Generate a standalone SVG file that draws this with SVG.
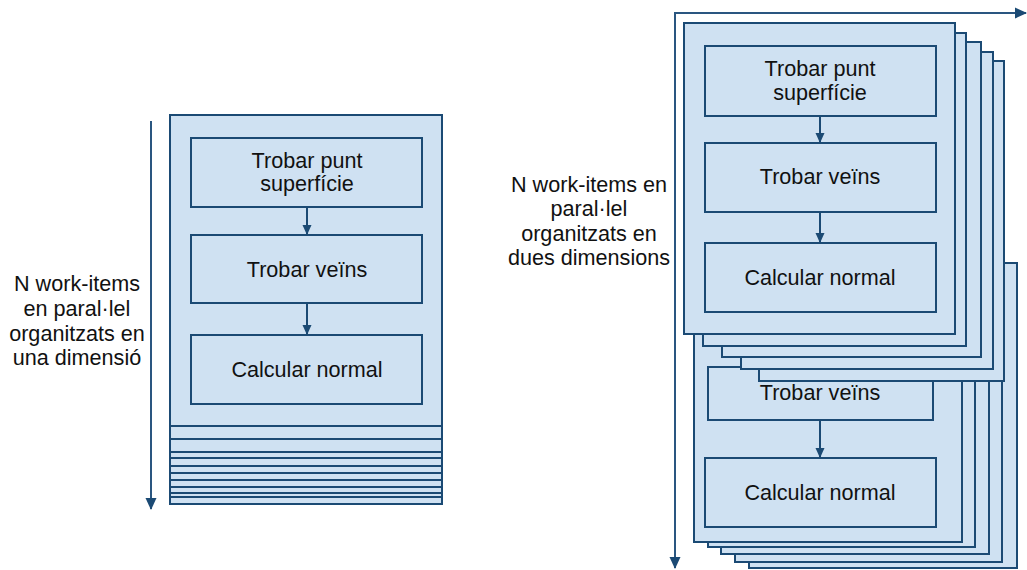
<svg xmlns="http://www.w3.org/2000/svg" width="1027" height="570" viewBox="0 0 1027 570">
  <style>
    .card { fill: #cfe1f2; stroke: #1b4a74; stroke-width: 2; }
    .box { fill: #cfe1f2; stroke: #1b4a74; stroke-width: 2; }
    .flow { stroke: #1b4a74; stroke-width: 2; fill: none; }
    .axis { stroke: #2a5680; stroke-width: 2; fill: none; }
    text { font-family: "Liberation Sans", Arial, sans-serif; font-size: 21.6px; fill: #111; text-anchor: middle; }
  </style>
  <defs>
    <marker id="head" markerWidth="10" markerHeight="10" refX="9" refY="5" orient="auto" markerUnits="userSpaceOnUse">
      <path d="M0,0.5 L10,5 L0,9.5 Z" fill="#1b4a74"/>
    </marker>
    <marker id="axisHead" markerWidth="12" markerHeight="12" refX="11" refY="6" orient="auto" markerUnits="userSpaceOnUse">
      <path d="M0,0.5 L12,6 L0,11.5 Z" fill="#1b4a74"/>
    </marker>
  </defs>

  <!-- axes -->
  <g id="connectors-axes">
    <line class="axis" x1="151" y1="121" x2="151" y2="509" marker-end="url(#axisHead)"/>
    <line class="axis" x1="674" y1="13" x2="1026" y2="13" marker-end="url(#axisHead)"/>
    <line class="axis" x1="675" y1="12" x2="675" y2="568" marker-end="url(#axisHead)"/>
  </g>

  <!-- one-dimensional stack of work-items -->
  <g id="stack-1d">
    <rect class="card" x="170" y="120" width="272" height="384"/>
    <rect class="card" x="170" y="120" width="272" height="377"/>
    <rect class="card" x="170" y="120" width="272" height="373"/>
    <rect class="card" x="170" y="120" width="272" height="367"/>
    <rect class="card" x="170" y="120" width="272" height="360"/>
    <rect class="card" x="170" y="120" width="272" height="353"/>
    <rect class="card" x="170" y="120" width="272" height="346"/>
    <rect class="card" x="170" y="120" width="272" height="338"/>
    <rect class="card" x="170" y="120" width="272" height="332"/>
    <rect class="card" x="170" y="120" width="272" height="319"/>
    <rect class="card" x="170" y="115" width="272" height="311"/>
  </g>
  <g id="node-1d-trobar-punt">
    <rect class="box" x="191" y="138" width="231" height="69"/>
    <text x="307" y="168">Trobar punt</text>
    <text x="307" y="191">superfície</text>
  </g>
  <g id="node-1d-trobar-veins">
    <rect class="box" x="191" y="235" width="231" height="68"/>
    <text x="307" y="277">Trobar veïns</text>
  </g>
  <g id="node-1d-calcular-normal">
    <rect class="box" x="191" y="335" width="231" height="69"/>
    <text x="307" y="377">Calcular normal</text>
  </g>

  <!-- two-dimensional grid of work-items: lower stack -->
  <g id="stack-2d-lower">
    <rect class="card" x="749" y="263" width="268" height="305"/>
    <rect class="card" x="735" y="255" width="267" height="307"/>
    <rect class="card" x="721" y="246" width="268" height="308"/>
    <rect class="card" x="708" y="238" width="267" height="309"/>
    <rect class="card" x="694" y="230" width="268" height="312"/>
  </g>
  <g id="node-2d-lower-trobar-veins">
    <rect class="box" x="708" y="367" width="225" height="53"/>
    <text x="820" y="400">Trobar veïns</text>
  </g>
  <g id="node-2d-lower-calcular-normal">
    <rect class="box" x="705" y="458" width="231" height="69"/>
    <text x="820" y="500">Calcular normal</text>
  </g>

  <!-- two-dimensional grid of work-items: upper stack -->
  <g id="stack-2d-upper">
    <rect class="card" x="759" y="61" width="245" height="320"/>
    <rect class="card" x="741" y="52" width="252" height="317"/>
    <rect class="card" x="722" y="42" width="259" height="315"/>
    <rect class="card" x="703" y="33" width="263" height="313"/>
    <rect class="card" x="684" y="23" width="271" height="311"/>
  </g>
  <g id="node-2d-trobar-punt">
    <rect class="box" x="705" y="46" width="231" height="70"/>
    <text x="820" y="76">Trobar punt</text>
    <text x="820" y="100">superfície</text>
  </g>
  <g id="node-2d-trobar-veins">
    <rect class="box" x="705" y="143" width="231" height="69"/>
    <text x="820" y="184">Trobar veïns</text>
  </g>
  <g id="node-2d-calcular-normal">
    <rect class="box" x="705" y="243" width="231" height="69"/>
    <text x="820" y="285">Calcular normal</text>
  </g>

  <!-- flow between steps -->
  <g id="connectors">
    <line class="flow" x1="307" y1="207" x2="307" y2="234" marker-end="url(#head)"/>
    <line class="flow" x1="307" y1="303" x2="307" y2="334" marker-end="url(#head)"/>
    <line class="flow" x1="820" y1="116" x2="820" y2="142" marker-end="url(#head)"/>
    <line class="flow" x1="820" y1="212" x2="820" y2="242" marker-end="url(#head)"/>
    <line class="flow" x1="820" y1="420" x2="820" y2="457" marker-end="url(#head)"/>
  </g>

  <!-- axis labels -->
  <g id="label-1d">
    <text x="77" y="291">N work-items</text>
    <text x="77" y="316">en paral·lel</text>
    <text x="77" y="341">organitzats en</text>
    <text x="77" y="365">una dimensió</text>
  </g>
  <g id="label-2d">
    <text x="589" y="192">N work-items en</text>
    <text x="589" y="216">paral·lel</text>
    <text x="589" y="241">organitzats en</text>
    <text x="589" y="265">dues dimensions</text>
  </g>
</svg>
